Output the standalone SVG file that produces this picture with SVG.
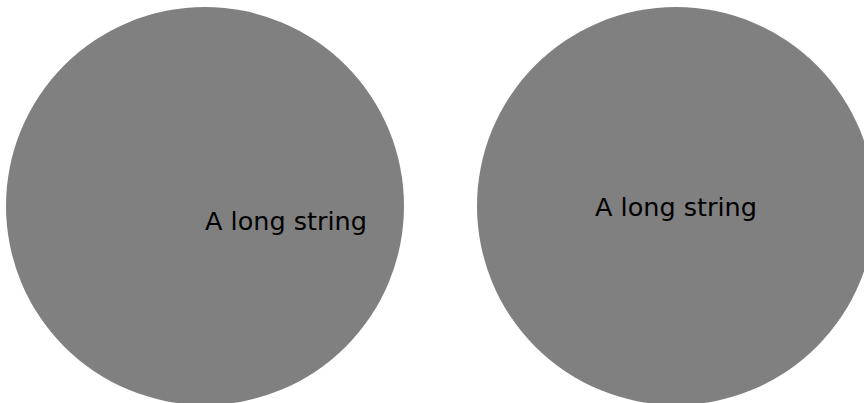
<svg xmlns="http://www.w3.org/2000/svg" width="864" height="403" viewBox="0 0 864 403">
<style>
.c{fill:#808080}
.t{font-family:"DejaVu Sans",sans-serif;font-size:25.5px;fill:#000}
</style>
<rect width="864" height="403" fill="#fff"/>
<g id="node1"><circle class="c" cx="205" cy="206" r="199"/><text class="t" x="205" y="230">A long string</text></g>
<g id="node2"><circle class="c" cx="676" cy="206" r="199"/><text class="t" x="676" y="216" text-anchor="middle">A long string</text></g>
<g id="connectors"/>
</svg>
